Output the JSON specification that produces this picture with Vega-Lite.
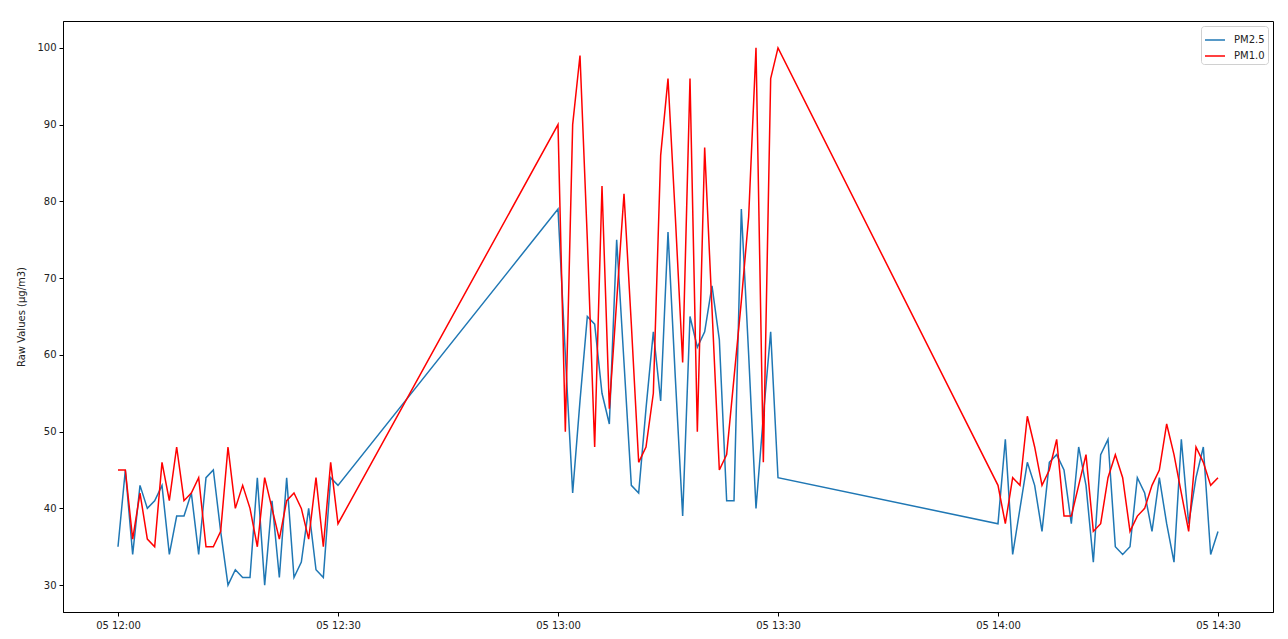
{
  "$schema": "https://vega.github.io/schema/vega-lite/v6.json",
  "width": 1210,
  "height": 591,
  "autosize": {"type": "none"},
  "padding": {"left": 63, "top": 21, "right": 15, "bottom": 27},
  "background": "white",
  "config": {
    "font": "DejaVu Sans",
    "view": {"stroke": "#000", "strokeWidth": 1},
    "axis": {
      "domainColor": "#000",
      "domainWidth": 1,
      "tickColor": "#000",
      "tickSize": 4,
      "tickWidth": 1,
      "labelFont": "DejaVu Sans",
      "labelFontSize": 10,
      "labelColor": "#222",
      "labelPadding": 3,
      "grid": false,
      "titleFont": "DejaVu Sans",
      "titleFontSize": 10,
      "titleFontWeight": "normal",
      "titleColor": "#222"
    }
  },
  "data": {
    "values": [
      {"t":"2021-01-05T12:00","s":"PM2.5","v":35},{"t":"2021-01-05T12:01","s":"PM2.5","v":45},{"t":"2021-01-05T12:02","s":"PM2.5","v":34},{"t":"2021-01-05T12:03","s":"PM2.5","v":43},{"t":"2021-01-05T12:04","s":"PM2.5","v":40},{"t":"2021-01-05T12:05","s":"PM2.5","v":41},{"t":"2021-01-05T12:06","s":"PM2.5","v":43},{"t":"2021-01-05T12:07","s":"PM2.5","v":34},{"t":"2021-01-05T12:08","s":"PM2.5","v":39},{"t":"2021-01-05T12:09","s":"PM2.5","v":39},{"t":"2021-01-05T12:10","s":"PM2.5","v":42},{"t":"2021-01-05T12:11","s":"PM2.5","v":34},{"t":"2021-01-05T12:12","s":"PM2.5","v":44},{"t":"2021-01-05T12:13","s":"PM2.5","v":45},{"t":"2021-01-05T12:14","s":"PM2.5","v":37},{"t":"2021-01-05T12:15","s":"PM2.5","v":30},{"t":"2021-01-05T12:16","s":"PM2.5","v":32},{"t":"2021-01-05T12:17","s":"PM2.5","v":31},{"t":"2021-01-05T12:18","s":"PM2.5","v":31},{"t":"2021-01-05T12:19","s":"PM2.5","v":44},{"t":"2021-01-05T12:20","s":"PM2.5","v":30},{"t":"2021-01-05T12:21","s":"PM2.5","v":41},{"t":"2021-01-05T12:22","s":"PM2.5","v":31},{"t":"2021-01-05T12:23","s":"PM2.5","v":44},{"t":"2021-01-05T12:24","s":"PM2.5","v":31},{"t":"2021-01-05T12:25","s":"PM2.5","v":33},{"t":"2021-01-05T12:26","s":"PM2.5","v":40},{"t":"2021-01-05T12:27","s":"PM2.5","v":32},{"t":"2021-01-05T12:28","s":"PM2.5","v":31},{"t":"2021-01-05T12:29","s":"PM2.5","v":44},{"t":"2021-01-05T12:30","s":"PM2.5","v":43},
      {"t":"2021-01-05T13:00","s":"PM2.5","v":79},{"t":"2021-01-05T13:01","s":"PM2.5","v":60},{"t":"2021-01-05T13:02","s":"PM2.5","v":42},{"t":"2021-01-05T13:03","s":"PM2.5","v":54},{"t":"2021-01-05T13:04","s":"PM2.5","v":65},{"t":"2021-01-05T13:05","s":"PM2.5","v":64},{"t":"2021-01-05T13:06","s":"PM2.5","v":55},{"t":"2021-01-05T13:07","s":"PM2.5","v":51},{"t":"2021-01-05T13:08","s":"PM2.5","v":75},{"t":"2021-01-05T13:09","s":"PM2.5","v":59},{"t":"2021-01-05T13:10","s":"PM2.5","v":43},{"t":"2021-01-05T13:11","s":"PM2.5","v":42},{"t":"2021-01-05T13:12","s":"PM2.5","v":53},{"t":"2021-01-05T13:13","s":"PM2.5","v":63},{"t":"2021-01-05T13:14","s":"PM2.5","v":54},{"t":"2021-01-05T13:15","s":"PM2.5","v":76},{"t":"2021-01-05T13:16","s":"PM2.5","v":57},{"t":"2021-01-05T13:17","s":"PM2.5","v":39},{"t":"2021-01-05T13:18","s":"PM2.5","v":65},{"t":"2021-01-05T13:19","s":"PM2.5","v":61},{"t":"2021-01-05T13:20","s":"PM2.5","v":63},{"t":"2021-01-05T13:21","s":"PM2.5","v":69},{"t":"2021-01-05T13:22","s":"PM2.5","v":62},{"t":"2021-01-05T13:23","s":"PM2.5","v":41},{"t":"2021-01-05T13:24","s":"PM2.5","v":41},{"t":"2021-01-05T13:25","s":"PM2.5","v":79},{"t":"2021-01-05T13:26","s":"PM2.5","v":60},{"t":"2021-01-05T13:27","s":"PM2.5","v":40},{"t":"2021-01-05T13:28","s":"PM2.5","v":52},{"t":"2021-01-05T13:29","s":"PM2.5","v":63},{"t":"2021-01-05T13:30","s":"PM2.5","v":44},
      {"t":"2021-01-05T14:00","s":"PM2.5","v":38},{"t":"2021-01-05T14:01","s":"PM2.5","v":49},{"t":"2021-01-05T14:02","s":"PM2.5","v":34},{"t":"2021-01-05T14:03","s":"PM2.5","v":40},{"t":"2021-01-05T14:04","s":"PM2.5","v":46},{"t":"2021-01-05T14:05","s":"PM2.5","v":43},{"t":"2021-01-05T14:06","s":"PM2.5","v":37},{"t":"2021-01-05T14:07","s":"PM2.5","v":46},{"t":"2021-01-05T14:08","s":"PM2.5","v":47},{"t":"2021-01-05T14:09","s":"PM2.5","v":45},{"t":"2021-01-05T14:10","s":"PM2.5","v":38},{"t":"2021-01-05T14:11","s":"PM2.5","v":48},{"t":"2021-01-05T14:12","s":"PM2.5","v":43},{"t":"2021-01-05T14:13","s":"PM2.5","v":33},{"t":"2021-01-05T14:14","s":"PM2.5","v":47},{"t":"2021-01-05T14:15","s":"PM2.5","v":49},{"t":"2021-01-05T14:16","s":"PM2.5","v":35},{"t":"2021-01-05T14:17","s":"PM2.5","v":34},{"t":"2021-01-05T14:18","s":"PM2.5","v":35},{"t":"2021-01-05T14:19","s":"PM2.5","v":44},{"t":"2021-01-05T14:20","s":"PM2.5","v":42},{"t":"2021-01-05T14:21","s":"PM2.5","v":37},{"t":"2021-01-05T14:22","s":"PM2.5","v":44},{"t":"2021-01-05T14:23","s":"PM2.5","v":38},{"t":"2021-01-05T14:24","s":"PM2.5","v":33},{"t":"2021-01-05T14:25","s":"PM2.5","v":49},{"t":"2021-01-05T14:26","s":"PM2.5","v":38},{"t":"2021-01-05T14:27","s":"PM2.5","v":44},{"t":"2021-01-05T14:28","s":"PM2.5","v":48},{"t":"2021-01-05T14:29","s":"PM2.5","v":34},{"t":"2021-01-05T14:30","s":"PM2.5","v":37},
      {"t":"2021-01-05T12:00","s":"PM1.0","v":45},{"t":"2021-01-05T12:01","s":"PM1.0","v":45},{"t":"2021-01-05T12:02","s":"PM1.0","v":36},{"t":"2021-01-05T12:03","s":"PM1.0","v":42},{"t":"2021-01-05T12:04","s":"PM1.0","v":36},{"t":"2021-01-05T12:05","s":"PM1.0","v":35},{"t":"2021-01-05T12:06","s":"PM1.0","v":46},{"t":"2021-01-05T12:07","s":"PM1.0","v":41},{"t":"2021-01-05T12:08","s":"PM1.0","v":48},{"t":"2021-01-05T12:09","s":"PM1.0","v":41},{"t":"2021-01-05T12:10","s":"PM1.0","v":42},{"t":"2021-01-05T12:11","s":"PM1.0","v":44},{"t":"2021-01-05T12:12","s":"PM1.0","v":35},{"t":"2021-01-05T12:13","s":"PM1.0","v":35},{"t":"2021-01-05T12:14","s":"PM1.0","v":37},{"t":"2021-01-05T12:15","s":"PM1.0","v":48},{"t":"2021-01-05T12:16","s":"PM1.0","v":40},{"t":"2021-01-05T12:17","s":"PM1.0","v":43},{"t":"2021-01-05T12:18","s":"PM1.0","v":40},{"t":"2021-01-05T12:19","s":"PM1.0","v":35},{"t":"2021-01-05T12:20","s":"PM1.0","v":44},{"t":"2021-01-05T12:21","s":"PM1.0","v":40},{"t":"2021-01-05T12:22","s":"PM1.0","v":36},{"t":"2021-01-05T12:23","s":"PM1.0","v":41},{"t":"2021-01-05T12:24","s":"PM1.0","v":42},{"t":"2021-01-05T12:25","s":"PM1.0","v":40},{"t":"2021-01-05T12:26","s":"PM1.0","v":36},{"t":"2021-01-05T12:27","s":"PM1.0","v":44},{"t":"2021-01-05T12:28","s":"PM1.0","v":35},{"t":"2021-01-05T12:29","s":"PM1.0","v":46},{"t":"2021-01-05T12:30","s":"PM1.0","v":38},
      {"t":"2021-01-05T13:00","s":"PM1.0","v":90},{"t":"2021-01-05T13:01","s":"PM1.0","v":50},{"t":"2021-01-05T13:02","s":"PM1.0","v":90},{"t":"2021-01-05T13:03","s":"PM1.0","v":99},{"t":"2021-01-05T13:04","s":"PM1.0","v":75},{"t":"2021-01-05T13:05","s":"PM1.0","v":48},{"t":"2021-01-05T13:06","s":"PM1.0","v":82},{"t":"2021-01-05T13:07","s":"PM1.0","v":53},{"t":"2021-01-05T13:08","s":"PM1.0","v":67},{"t":"2021-01-05T13:09","s":"PM1.0","v":81},{"t":"2021-01-05T13:10","s":"PM1.0","v":64},{"t":"2021-01-05T13:11","s":"PM1.0","v":46},{"t":"2021-01-05T13:12","s":"PM1.0","v":48},{"t":"2021-01-05T13:13","s":"PM1.0","v":55},{"t":"2021-01-05T13:14","s":"PM1.0","v":86},{"t":"2021-01-05T13:15","s":"PM1.0","v":96},{"t":"2021-01-05T13:16","s":"PM1.0","v":78},{"t":"2021-01-05T13:17","s":"PM1.0","v":59},{"t":"2021-01-05T13:18","s":"PM1.0","v":96},{"t":"2021-01-05T13:19","s":"PM1.0","v":50},{"t":"2021-01-05T13:20","s":"PM1.0","v":87},{"t":"2021-01-05T13:21","s":"PM1.0","v":66},{"t":"2021-01-05T13:22","s":"PM1.0","v":45},{"t":"2021-01-05T13:23","s":"PM1.0","v":47},{"t":"2021-01-05T13:24","s":"PM1.0","v":57},{"t":"2021-01-05T13:25","s":"PM1.0","v":67},{"t":"2021-01-05T13:26","s":"PM1.0","v":78},{"t":"2021-01-05T13:27","s":"PM1.0","v":100},{"t":"2021-01-05T13:28","s":"PM1.0","v":46},{"t":"2021-01-05T13:29","s":"PM1.0","v":96},{"t":"2021-01-05T13:30","s":"PM1.0","v":100},
      {"t":"2021-01-05T14:00","s":"PM1.0","v":43},{"t":"2021-01-05T14:01","s":"PM1.0","v":38},{"t":"2021-01-05T14:02","s":"PM1.0","v":44},{"t":"2021-01-05T14:03","s":"PM1.0","v":43},{"t":"2021-01-05T14:04","s":"PM1.0","v":52},{"t":"2021-01-05T14:05","s":"PM1.0","v":48},{"t":"2021-01-05T14:06","s":"PM1.0","v":43},{"t":"2021-01-05T14:07","s":"PM1.0","v":45},{"t":"2021-01-05T14:08","s":"PM1.0","v":49},{"t":"2021-01-05T14:09","s":"PM1.0","v":39},{"t":"2021-01-05T14:10","s":"PM1.0","v":39},{"t":"2021-01-05T14:11","s":"PM1.0","v":43},{"t":"2021-01-05T14:12","s":"PM1.0","v":47},{"t":"2021-01-05T14:13","s":"PM1.0","v":37},{"t":"2021-01-05T14:14","s":"PM1.0","v":38},{"t":"2021-01-05T14:15","s":"PM1.0","v":44},{"t":"2021-01-05T14:16","s":"PM1.0","v":47},{"t":"2021-01-05T14:17","s":"PM1.0","v":44},{"t":"2021-01-05T14:18","s":"PM1.0","v":37},{"t":"2021-01-05T14:19","s":"PM1.0","v":39},{"t":"2021-01-05T14:20","s":"PM1.0","v":40},{"t":"2021-01-05T14:21","s":"PM1.0","v":43},{"t":"2021-01-05T14:22","s":"PM1.0","v":45},{"t":"2021-01-05T14:23","s":"PM1.0","v":51},{"t":"2021-01-05T14:24","s":"PM1.0","v":47},{"t":"2021-01-05T14:25","s":"PM1.0","v":42},{"t":"2021-01-05T14:26","s":"PM1.0","v":37},{"t":"2021-01-05T14:27","s":"PM1.0","v":48},{"t":"2021-01-05T14:28","s":"PM1.0","v":46},{"t":"2021-01-05T14:29","s":"PM1.0","v":43},{"t":"2021-01-05T14:30","s":"PM1.0","v":44}
    ]
  },
  "mark": {"type": "line", "strokeWidth": 1.5, "interpolate": "linear"},
  "encoding": {
    "x": {
      "field": "t",
      "type": "temporal",
      "scale": {
        "domain": [
          {"year": 2021, "month": 1, "date": 5, "hours": 11, "minutes": 52, "seconds": 30},
          {"year": 2021, "month": 1, "date": 5, "hours": 14, "minutes": 37, "seconds": 30}
        ]
      },
      "axis": {
        "title": null,
        "format": "%d %H:%M",
        "values": [
          {"year": 2021, "month": 1, "date": 5, "hours": 12, "minutes": 0},
          {"year": 2021, "month": 1, "date": 5, "hours": 12, "minutes": 30},
          {"year": 2021, "month": 1, "date": 5, "hours": 13, "minutes": 0},
          {"year": 2021, "month": 1, "date": 5, "hours": 13, "minutes": 30},
          {"year": 2021, "month": 1, "date": 5, "hours": 14, "minutes": 0},
          {"year": 2021, "month": 1, "date": 5, "hours": 14, "minutes": 30}
        ],
        "labelPadding": 4
      }
    },
    "y": {
      "field": "v",
      "type": "quantitative",
      "scale": {"domain": [26.5, 103.5], "nice": false, "zero": false},
      "axis": {
        "title": "Raw Values (µg/m3)",
        "values": [30, 40, 50, 60, 70, 80, 90, 100],
        "titlePadding": 10
      }
    },
    "color": {
      "field": "s",
      "type": "nominal",
      "sort": ["PM2.5", "PM1.0"],
      "scale": {"domain": ["PM2.5", "PM1.0"], "range": ["#1f77b4", "#ff0000"]},
      "legend": {
        "title": null,
        "orient": "top-right",
        "offset": 5,
        "symbolType": "stroke",
        "symbolSize": 400,
        "symbolStrokeWidth": 1.5,
        "labelFont": "DejaVu Sans",
        "labelFontSize": 10,
        "labelColor": "#222",
        "labelOffset": 8,
        "strokeColor": "#d0d0d0",
        "fillColor": "white",
        "cornerRadius": 3,
        "padding": 3,
        "rowPadding": -4
      }
    }
  }
}
